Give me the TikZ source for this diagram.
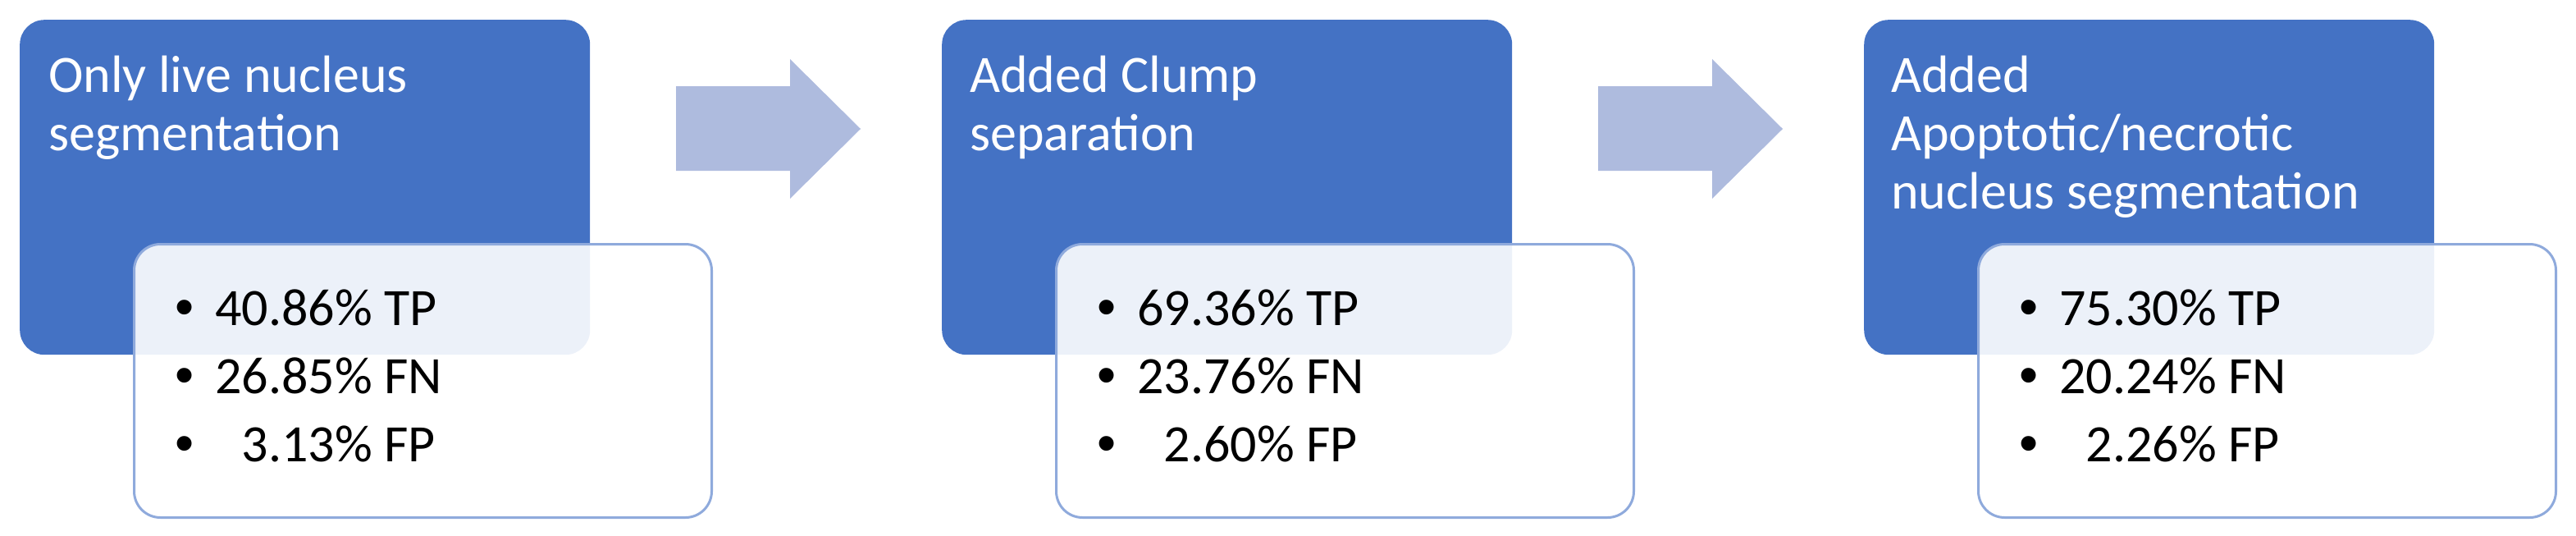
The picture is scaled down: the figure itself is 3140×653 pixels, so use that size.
\documentclass[tikz,border=0pt]{standalone}
\usepackage{fontspec}
\setmainfont{Carlito}
\newfontfamily\bulfont{Liberation Sans}
\definecolor{boxblue}{RGB}{68,114,196}
\definecolor{edgeblue}{RGB}{143,170,220}
\definecolor{arrowblue}{RGB}{174,187,222}
\begin{document}
\begin{tikzpicture}[x=1pt,y=-1pt,
  blueblock/.style={fill=boxblue, rounded corners=30pt, minimum width=695pt, minimum height=408pt, anchor=north west, inner sep=0pt},
  whiteblock/.style={fill=white, fill opacity=0.9, draw=edgeblue, line width=3pt, rounded corners=32pt, minimum width=704pt, minimum height=333pt, anchor=north west, inner sep=0pt},
  titletext/.style={anchor=base west, inner sep=0pt, text=white, font=\fontsize{64}{71}\selectfont},
  itemtext/.style={anchor=base west, inner sep=0pt, text=black, font=\fontsize{64}{83}\selectfont},
  bullet/.style={anchor=base, inner sep=0pt, text=black, font=\bulfont\fontsize{66}{83}\selectfont},
  blockarrow/.style={fill=arrowblue}
]
\useasboundingbox (0,0) rectangle (3140,653);
% blue blocks
\node[blueblock] (b1) at (24,24) {};
\node[blueblock] (b2) at (1148,24) {};
\node[blueblock] (b3) at (2272,24) {};
% titles
\node[titletext] (t1a) at (59,112) {Only live nucleus};
\node[titletext] (t1b) at (59,183) {segmentation};
\node[titletext] (t2a) at (1182,112) {Added Clump};
\node[titletext] (t2b) at (1182,183) {separation};
\node[titletext] (t3a) at (2305,112) {Added};
\node[titletext] (t3b) at (2305,183) {Apoptotic/necrotic};
\node[titletext] (t3c) at (2305,254) {nucleus segmentation};
% white blocks
\node[whiteblock] (w1) at (162,296) {};
\node[whiteblock] (w2) at (1286,296) {};
\node[whiteblock] (w3) at (2410,296) {};
% bullets and items
\foreach \dx/\na/\nb/\nc [count=\k] in {0/40.86\% TP/26.85\% FN/3.13\% FP,
                               1124/69.36\% TP/23.76\% FN/2.60\% FP,
                               2248/75.30\% TP/20.24\% FN/2.26\% FP}{
  \node[bullet] (ba\k) at (225+\dx,396) {•};
  \node[bullet] (bb\k) at (225+\dx,479) {•};
  \node[bullet] (bc\k) at (225+\dx,562) {•};
  \node[itemtext] (ia\k) at (262+\dx,396) {\na};
  \node[itemtext] (ib\k) at (262+\dx,479) {\nb};
  \node[itemtext] (ic\k) at (262+\dx,562) {\phantom{0}\nc};
}
% block arrows
\foreach \dx [count=\k] in {0,1124}{
  \fill[blockarrow] (824+\dx,105) -- (963+\dx,105) -- (963+\dx,72) -- (1049+\dx,157)
     -- (963+\dx,242) -- (963+\dx,208) -- (824+\dx,208) -- cycle;
}
\end{tikzpicture}
\end{document}
